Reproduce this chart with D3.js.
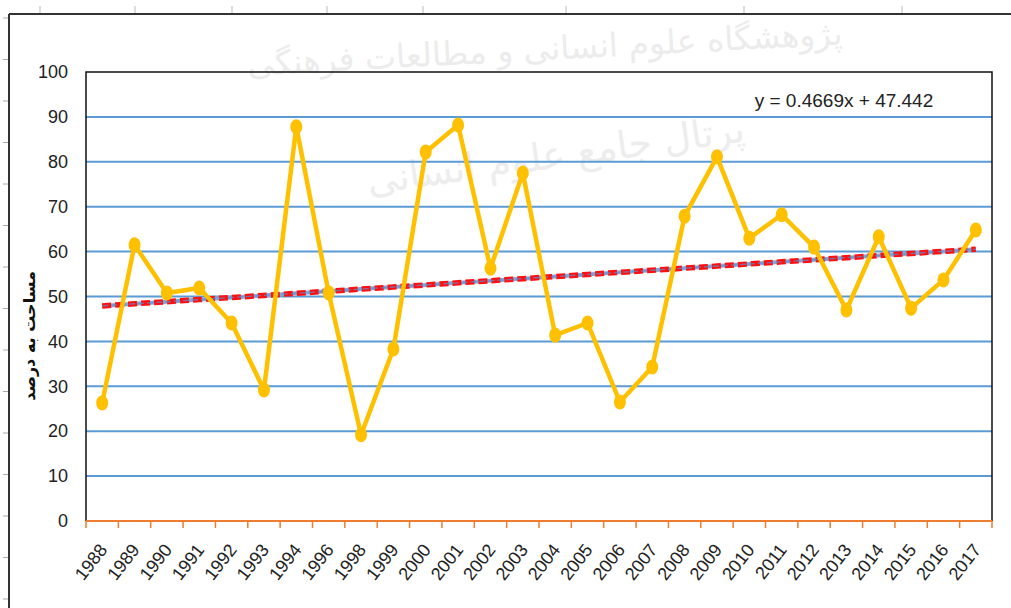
<!DOCTYPE html>
<html>
<head>
<meta charset="utf-8">
<script src="https://cdn.jsdelivr.net/npm/d3@7"></script>
<style>
  body { margin: 0; background: #fff; }
  svg { display: block; }
  .tick text { font-family: "Liberation Sans Narrow", "Liberation Sans", sans-serif; fill: #222; }
</style>
</head>
<body>
<svg width="1011" height="608"></svg>
<script>
// years on the category axis (1995 and 1997 are missing in the source)
let years = ["1988","1989","1990","1991","1992","1993","1994","1996","1998","1999","2000","2001","2002","2003","2004","2005","2006","2007","2008","2009","2010","2011","2012","2013","2014","2015","2016","2017"];
// area in percent
let values = [26.3,61.5,50.8,51.9,44.1,29.2,87.8,50.8,19.2,38.3,82.2,88.2,56.3,77.5,41.4,44.1,26.5,34.3,67.9,81.1,63.0,68.2,61.0,47.0,63.3,47.4,53.7,64.8];
let yTicks = [0,10,20,30,40,50,60,70,80,90,100];
// linear trend shown on the chart
let slope = 0.4669;
let intercept = 47.442;
let yTitle = "مساحت به درصد";
let watermark1 = "پژوهشگاه علوم انسانی و مطالعات فرهنگی";
let watermark2 = "پرتال جامع علوم انسانی";

const svg = d3.select('svg');
const plotL = 86, plotR = 992, plotT = 72, plotB = 521;

let x = d3.scaleBand().domain(years).range([plotL, plotR]);
let y = d3.scaleLinear().domain([0, 100]).range([plotB, plotT]);
let cx = d => x(d) + x.bandwidth() / 2;

// outer frame of the figure (ruler-like ticks)
svg.append('line').attr('x1', 9).attr('x2', 1011).attr('y1', 14).attr('y2', 14)
  .attr('stroke', '#333').attr('stroke-width', 2);
svg.append('line').attr('x1', 9).attr('x2', 9).attr('y1', 14).attr('y2', 608)
  .attr('stroke', '#333').attr('stroke-width', 2);
svg.selectAll('.ltick').data(d3.range(18, 608, 41.5)).join('line')
  .attr('x1', 3).attr('x2', 8).attr('y1', d => d).attr('y2', d => d)
  .attr('stroke', '#aaa');
svg.selectAll('.ttick').data([40, 135, 232, 327, 423, 566, 744, 902]).join('line')
  .attr('x1', d => d).attr('x2', d => d).attr('y1', 6).attr('y2', 13)
  .attr('stroke', '#bbb');

// watermark (faint)
svg.append('text').attr('x', 545).attr('y', 60)
  .attr('text-anchor', 'middle').attr('transform', 'rotate(-3 545 50)')
  .style('font-family', 'DejaVu Sans').style('font-size', '33px')
  .attr('fill', '#ececec').text(watermark1);
svg.append('text').attr('x', 555).attr('y', 168)
  .attr('text-anchor', 'middle').attr('transform', 'rotate(-8 555 150)')
  .style('font-family', 'DejaVu Sans').style('font-size', '38px')
  .attr('fill', '#ededed').text(watermark2);

// gridlines
svg.selectAll('.grid').data(yTicks.filter(d => d > 0 && d < 100)).join('line')
  .attr('x1', plotL).attr('x2', plotR)
  .attr('y1', d => y(d)).attr('y2', d => y(d))
  .attr('stroke', '#5b9bd5').attr('stroke-width', 2);

// plot area border
svg.append('path')
  .attr('d', `M${plotL},${plotB}V${plotT}H${plotR}V${plotB}`)
  .attr('fill', 'none').attr('stroke', '#111').attr('stroke-width', 1.5);

// y axis labels
let yAxis = svg.append('g').attr('transform', `translate(${plotL - 18},0)`)
  .call(d3.axisLeft(y).tickValues(yTicks).tickSize(0).tickPadding(0));
yAxis.select('.domain').remove();
yAxis.selectAll('text').style('font-size', '18px');

// x axis (orange, ticks between categories)
svg.append('line').attr('x1', plotL).attr('x2', plotR).attr('y1', plotB).attr('y2', plotB)
  .attr('stroke', '#ed7d31').attr('stroke-width', 2);
svg.selectAll('.xtick').data(years.map(d => x(d)).concat([plotR])).join('line')
  .attr('x1', d => d).attr('x2', d => d).attr('y1', plotB).attr('y2', plotB + 7)
  .attr('stroke', '#ed7d31').attr('stroke-width', 1.5);
let xAxis = svg.append('g').attr('transform', `translate(0,${plotB})`)
  .call(d3.axisBottom(x).tickSize(0).tickPadding(0));
xAxis.select('.domain').remove();
xAxis.selectAll('text')
  .style('font-size', '18px')
  .attr('text-anchor', 'end')
  .attr('dy', null)
  .attr('transform', 'translate(6,29) rotate(-52)');

// trendline (two overlapping trendlines: blue and red dashes)
let trend = years.map((d, i) => [cx(d), y(intercept + slope * (i + 1))]);
let line = d3.line();
svg.append('path').attr('d', line(trend))
  .attr('fill', 'none').attr('stroke', '#7aaade').attr('stroke-width', 4);
svg.append('path').attr('d', line(trend))
  .attr('fill', 'none').attr('stroke', '#ff1010').attr('stroke-width', 5.5)
  .attr('stroke-dasharray', '9 4');
svg.append('path').attr('d', line(trend))
  .attr('fill', 'none').attr('stroke', '#5b8fd0').attr('stroke-width', 1.4)
  .attr('stroke-dasharray', '6 3').attr('opacity', 0.7);

// series
svg.append('path')
  .datum(values)
  .attr('d', d3.line().x((d, i) => cx(years[i])).y(d => y(d)))
  .attr('fill', 'none').attr('stroke', '#ffc000').attr('stroke-width', 4.5)
  .attr('stroke-linejoin', 'round');
svg.selectAll('.pt').data(values).join('ellipse')
  .attr('cx', (d, i) => cx(years[i])).attr('cy', d => y(d))
  .attr('rx', 6).attr('ry', 7.5)
  .attr('fill', '#ffc000');

// equation label
svg.append('text').attr('x', 844).attr('y', 107)
  .attr('text-anchor', 'middle')
  .style('font-family', '"Liberation Sans Narrow", "Liberation Sans", sans-serif')
  .style('font-size', '19px').attr('fill', '#222')
  .text(`y = ${slope}x + ${intercept}`);

// y axis title
svg.append('text')
  .attr('transform', 'translate(35,336) rotate(-90)')
  .attr('text-anchor', 'middle')
  .style('font-family', '"DejaVu Sans", sans-serif')
  .style('font-size', '16px').style('font-weight', 'bold')
  .attr('fill', '#111')
  .text(yTitle);
</script>
</body>
</html>
